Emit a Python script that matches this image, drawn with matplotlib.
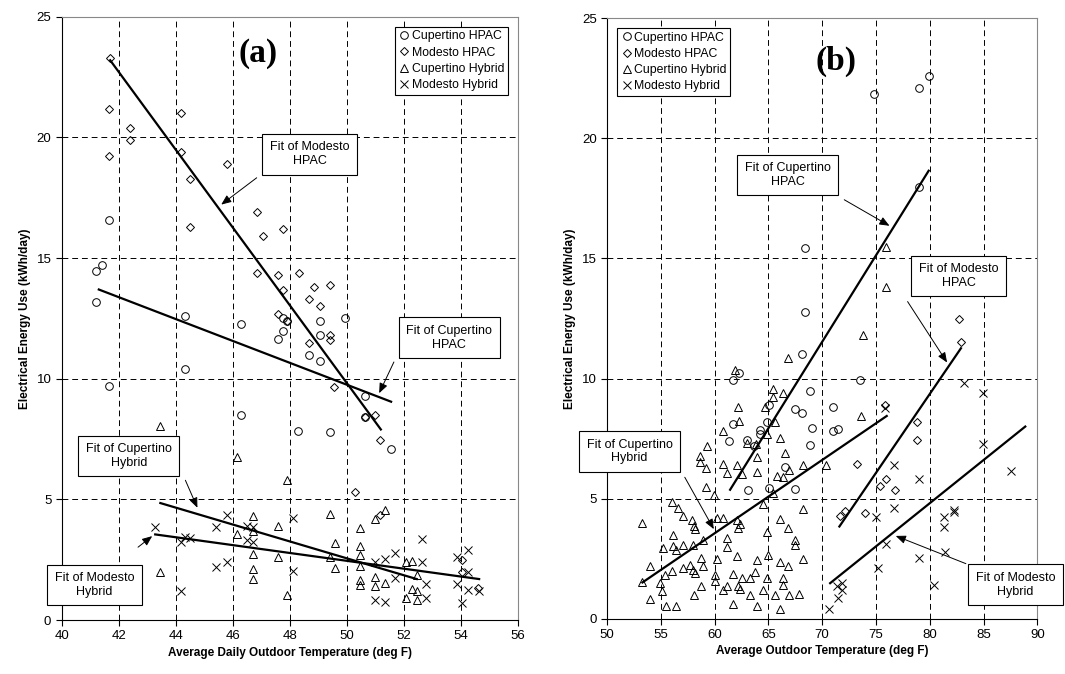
import numpy as np
import matplotlib.pyplot as plt

plt.rcParams['font.family'] = ['Liberation Sans', 'DejaVu Sans']

# ---- panel (a): daily data ----
a_cup_hpac_t = [41.65, 41.4, 41.2, 41.2, 44.33, 46.3, 47.75, 47.9, 47.77, 47.6, 49.05, 49.05, 49.93,
                48.67, 49.05, 44.33, 41.65, 50.65, 46.3, 48.3, 49.4, 50.65, 51.55]
a_cup_hpac_e = [16.6, 14.7, 14.45, 13.2, 12.6, 12.25, 12.5, 12.4, 12.0, 11.65, 12.4, 11.8, 12.5,
                11.0, 10.75, 10.4, 9.7, 9.3, 8.5, 7.85, 7.8, 8.4, 7.1]
a_mod_hpac_t = [41.7, 41.65, 44.18, 42.38, 42.38, 41.65, 44.18, 44.5, 45.8, 44.5, 46.86, 47.06, 47.77,
                46.86, 47.58, 48.32, 47.77, 48.85, 49.4, 48.67, 49.05, 47.58, 47.9, 48.67, 49.4,
                49.4, 49.57, 50.65, 51.0, 51.18, 50.28, 51.18, 54.06, 54.06, 54.6]
a_mod_hpac_e = [23.3, 21.2, 21.0, 20.4, 19.9, 19.25, 19.4, 18.3, 18.9, 16.3, 16.9, 15.9, 16.2,
                14.4, 14.3, 14.4, 13.7, 13.8, 13.9, 13.3, 13.0, 12.7, 12.4, 11.5, 11.8,
                11.6, 9.65, 8.4, 8.5, 7.45, 5.3, 4.35, 2.5, 2.0, 1.35]
a_cup_hyb_t = [43.46, 46.16, 47.9, 49.4, 51.35, 51.0, 50.48, 46.7, 47.6, 46.7, 46.16, 49.6, 50.48,
               50.48, 46.7, 47.6, 49.4, 50.48, 52.1, 52.3, 49.6, 46.7, 46.7, 43.46, 51.0, 51.35,
               52.46, 50.48, 50.48, 51.0, 52.3, 52.46, 52.1, 52.46, 47.9]
a_cup_hyb_e = [8.05, 6.75, 5.8, 4.4, 4.55, 4.2, 3.8, 4.3, 3.9, 3.7, 3.55, 3.2, 3.05,
               2.7, 2.75, 2.6, 2.6, 2.25, 2.4, 2.45, 2.15, 2.1, 1.7, 2.0, 1.8, 1.55,
               1.85, 1.65, 1.45, 1.4, 1.3, 1.2, 0.9, 0.85, 1.05]
a_mod_hyb_t = [43.28, 44.19, 44.33, 44.5, 44.19, 45.43, 45.8, 45.43, 45.8, 46.5, 46.7, 46.5, 46.7,
               48.1, 48.1, 51.0, 51.35, 51.7, 51.7, 51.0, 51.35, 52.64, 52.64, 52.8, 52.8, 53.88,
               54.27, 54.27, 53.88, 54.27, 54.65, 54.06]
a_mod_hyb_e = [3.85, 3.25, 3.45, 3.4, 1.2, 3.85, 4.35, 2.2, 2.4, 3.9, 3.85, 3.3, 3.25,
               4.25, 2.05, 2.4, 2.55, 2.8, 1.75, 0.85, 0.75, 3.35, 2.4, 1.5, 0.9, 2.6,
               2.9, 2.0, 1.5, 1.25, 1.2, 0.7]
a_fits = {'mod_hpac': ([41.7, 51.2], [23.2, 7.9]),
          'cup_hpac': ([41.3, 51.56], [13.7, 9.05]),
          'cup_hyb': ([43.46, 52.46], [4.85, 1.7]),
          'mod_hyb': ([43.28, 54.65], [3.55, 1.7])}

# ---- panel (b): average data ----
b_cup_hpac_t = [74.84, 78.96, 79.9, 78.96, 68.42, 68.42, 68.17, 73.53, 62.28, 61.75, 68.88, 65.1, 67.49,
                68.17, 71.05, 70.99, 71.43, 69.04, 64.91, 64.23, 64.23, 61.69, 61.38, 63.0, 63.7,
                68.88, 66.56, 63.15, 65.1, 67.49]
b_cup_hpac_e = [21.84, 22.1, 22.6, 17.98, 15.42, 12.78, 11.01, 9.94, 10.25, 9.94, 9.46, 8.9, 8.74,
                8.56, 8.83, 7.83, 7.89, 7.96, 8.17, 7.86, 7.7, 8.1, 7.38, 7.42, 7.17,
                7.24, 6.3, 5.34, 5.46, 5.39]
b_mod_hpac_t = [82.74, 82.9, 75.86, 78.8, 78.8, 73.22, 75.92, 75.4, 76.8, 71.67, 72.14, 73.94]
b_mod_hpac_e = [12.48, 11.54, 8.9, 8.21, 7.45, 6.45, 5.82, 5.53, 5.37, 4.26, 4.49, 4.4]
b_cup_hyb_t = [75.92, 75.92, 53.29, 56.02, 56.64, 57.04, 57.88, 58.09, 58.19, 56.17, 55.18, 56.17, 56.42,
               57.1, 57.97, 58.9, 54.0, 56.02, 57.1, 57.72, 58.03, 58.19, 58.71, 58.9, 54.93,
               55.09, 55.4, 54.0, 55.49, 56.42, 53.29, 58.09, 58.71, 59.27, 58.65, 58.65, 59.21,
               59.21, 59.95, 60.82, 60.82, 61.13, 62.06, 62.53, 62.22, 62.31, 61.91, 60.2, 60.82,
               62.06, 62.37, 62.22, 61.13, 61.13, 62.06, 60.2, 60.05, 60.05, 60.82, 61.13, 61.75,
               62.22, 62.37, 61.75, 63.3, 62.53, 63.3, 63.77, 63.92, 63.92, 63.92, 63.92, 63.86,
               64.7, 64.85, 65.47, 65.47, 66.4, 65.63, 66.09, 66.56, 65.78, 66.4, 66.87, 64.54,
               65.47, 64.85, 65.0, 64.54, 65.63, 66.09, 66.09, 66.78, 66.78, 66.4, 66.4, 66.87,
               66.09, 67.49, 67.49, 68.2, 68.2, 67.89, 68.2, 70.37, 66.81, 73.78, 73.6, 64.85, 62.99]
b_cup_hyb_e = [15.49, 13.8, 3.98, 4.84, 4.6, 4.26, 4.09, 3.84, 3.73, 3.47, 2.94, 3.01, 2.87,
               3.08, 3.08, 3.26, 2.18, 1.97, 2.11, 2.25, 2.04, 1.9, 2.52, 2.18, 1.48,
               1.14, 1.83, 0.83, 0.54, 0.54, 1.51, 1.0, 1.37, 7.17, 6.78, 6.54, 6.27,
               5.5, 5.16, 7.83, 6.43, 6.06, 6.38, 6.03, 8.8, 8.25, 10.36, 4.19, 4.19,
               4.12, 3.95, 3.77, 3.36, 2.98, 2.62, 2.48, 1.83, 1.55, 1.21, 1.37, 1.87,
               1.37, 1.23, 0.62, 1.0, 1.69, 1.69, 1.93, 0.54, 2.45, 6.75, 6.1, 7.28,
               8.83, 7.68, 9.55, 9.21, 9.41, 8.21, 7.54, 6.89, 5.96, 5.92, 6.2, 4.78,
               5.23, 3.63, 2.66, 1.21, 0.98, 4.17, 2.38, 3.77, 2.18, 1.69, 1.39, 0.98,
               0.4, 3.29, 3.05, 4.56, 2.48, 1.04, 6.41, 6.38, 10.87, 11.81, 8.44, 1.69, 7.33]
b_mod_hyb_t = [83.15, 84.95, 84.95, 87.55, 75.86, 76.64, 78.96, 76.64, 75.02, 81.29, 81.29, 82.22,
               82.22, 75.92, 78.96, 81.44, 75.15, 80.42, 70.68, 71.43, 71.83, 71.83, 71.36]
b_mod_hyb_e = [9.83, 9.39, 7.27, 6.13, 8.76, 6.41, 5.81, 4.6, 4.22, 4.23, 3.8, 4.53,
               4.44, 3.12, 2.52, 2.76, 2.11, 1.41, 0.4, 0.86, 1.48, 1.18, 1.35]
b_fits = {'cup_hpac': ([61.44, 79.9], [5.37, 18.65]),
          'mod_hpac': ([71.6, 82.9], [3.84, 11.26]),
          'cup_hyb': ([53.29, 76.0], [1.51, 8.44]),
          'mod_hyb': ([70.74, 88.88], [1.48, 8.0])}

labels = ['Cupertino HPAC', 'Modesto HPAC', 'Cupertino Hybrid', 'Modesto Hybrid']
mk = dict(linestyle='none', markerfacecolor='none', markeredgecolor='black',
          color='black', markeredgewidth=0.7)


def draw(ax, series, fits, notes, tag, tagpos, legloc, xlim, xstep, xlabel):
    shapes = [('o', 5.5), ('D', 4.0), ('^', 5.5), ('x', 6.0)]
    for (t, e), (m, s), lab in zip(series, shapes, labels):
        ax.plot(t, e, marker=m, markersize=s, label=lab, **mk)
    for xs, ys in fits.values():
        ax.plot(xs, ys, color='black', lw=1.6)
    for txt, cen, tail, head in notes:
        ax.text(cen[0], cen[1], txt, ha='center', va='center', fontsize=9,
                bbox=dict(boxstyle='square,pad=0.6', fc='white', ec='black', lw=0.8), zorder=5)
        ax.annotate('', xy=head, xytext=tail,
                    arrowprops=dict(arrowstyle='-|>,head_width=0.25,head_length=0.6',
                                    color='black', lw=0.7), zorder=4)
    ax.text(tagpos[0], tagpos[1], tag, ha='center', va='center', fontsize=24,
            fontweight='bold', family='Liberation Serif')
    ax.set_xlim(*xlim)
    ax.set_ylim(0, 25)
    ax.set_xticks(np.arange(xlim[0], xlim[1] + 0.1, xstep))
    ax.set_yticks(np.arange(0, 26, 5))
    ax.grid(True, color='black', linestyle=(0, (6, 4)), lw=0.7)
    ax.tick_params(labelsize=9.5, direction='out', length=4)
    for sp in ax.spines.values():
        sp.set_color('#888888')
    ax.spines['left'].set_color('black')
    ax.spines['bottom'].set_color('black')
    ax.set_xlabel(xlabel, fontsize=8.5, fontweight='bold', labelpad=3)
    ax.set_ylabel('Electrical Energy Use (kWh/day)', fontsize=8.5, fontweight='bold')
    leg = ax.legend(loc=legloc, fontsize=8.8, handletextpad=0.1, handlelength=1.0,
                    borderpad=0.3, labelspacing=0.35, fancybox=False, edgecolor='black',
                    framealpha=1, borderaxespad=0.8)
    leg.get_frame().set_linewidth(0.8)


fig = plt.figure(figsize=(10.65, 6.74), dpi=100)
ax1 = fig.add_axes([0.058, 0.080, 0.428, 0.895])
ax2 = fig.add_axes([0.570, 0.082, 0.404, 0.891])

draw(ax1,
     [(a_cup_hpac_t, a_cup_hpac_e), (a_mod_hpac_t, a_mod_hpac_e),
      (a_cup_hyb_t, a_cup_hyb_e), (a_mod_hyb_t, a_mod_hyb_e)],
     a_fits,
     [('Fit of Modesto\nHPAC', (48.7, 19.3), (46.92, 18.4), (45.52, 17.15)),
      ('Fit of Cupertino\nHPAC', (53.6, 11.7), (51.7, 10.8), (51.1, 9.3)),
      ('Fit of Cupertino\nHybrid', (42.35, 6.8), (44.3, 5.9), (44.8, 4.55)),
      ('Fit of Modesto\nHybrid', (41.15, 1.45), (42.6, 2.95), (43.25, 3.55))],
     '(a)', (46.9, 23.5), 'upper right', (40, 56), 2,
     'Average Daily Outdoor Temperature (deg F)')

draw(ax2,
     [(b_cup_hpac_t, b_cup_hpac_e), (b_mod_hpac_t, b_mod_hpac_e),
      (b_cup_hyb_t, b_cup_hyb_e), (b_mod_hyb_t, b_mod_hyb_e)],
     b_fits,
     [('Fit of Cupertino\nHPAC', (66.8, 18.47), (71.83, 17.5), (76.48, 16.3)),
      ('Fit of Modesto\nHPAC', (82.68, 14.27), (77.8, 13.3), (81.75, 10.57)),
      ('Fit of Cupertino\nHybrid', (52.1, 6.96), (57.1, 5.99), (60.05, 3.63)),
      ('Fit of Modesto\nHybrid', (87.95, 1.41), (83.6, 2.25), (76.6, 3.49))],
     '(b)', (71.3, 23.2), 'upper left', (50, 90), 5,
     'Average Outdoor Temperature (deg F)')

fig.savefig('out.png', dpi=100)
plt.close(fig)
